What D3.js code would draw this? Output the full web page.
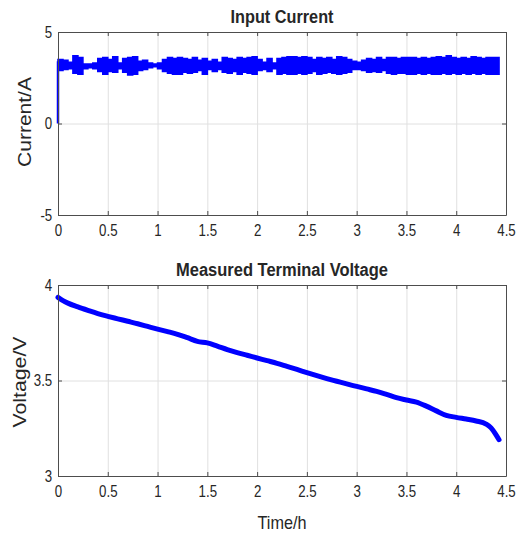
<!DOCTYPE html>
<html>
<head>
<meta charset="utf-8">
<script src="https://cdn.jsdelivr.net/npm/d3@7"></script>
<style>
  body { margin: 0; background: #fff; }
  text { font-family: "Liberation Sans", Arial, sans-serif; fill: #262626; }
</style>
</head>
<body>
<script>
// Chart size
var w = 523;
var h = 533;

// Input current: envelope of the noisy signal, one bin every 0.05 h
var currentTime = [0.00,0.05,0.10,0.15,0.20,0.25,0.30,0.35,0.40,0.45,0.50,0.55,0.60,0.65,0.70,0.75,0.80,0.85,0.90,0.95,
  1.00,1.05,1.10,1.15,1.20,1.25,1.30,1.35,1.40,1.45,1.50,1.55,1.60,1.65,1.70,1.75,1.80,1.85,1.90,1.95,
  2.00,2.05,2.10,2.15,2.20,2.25,2.30,2.35,2.40,2.45,2.50,2.55,2.60,2.65,2.70,2.75,2.80,2.85,2.90,2.95,
  3.00,3.05,3.10,3.15,3.20,3.25,3.30,3.35,3.40,3.45,3.50,3.55,3.60,3.65,3.70,3.75,3.80,3.85,3.90,3.95,
  4.00,4.05,4.10,4.15,4.20,4.25,4.30,4.35,4.43];
var currentHigh = [3.50,3.45,3.35,3.70,3.60,3.25,3.25,3.30,3.55,3.60,3.50,3.65,3.30,3.55,3.60,3.65,3.40,3.45,3.30,3.25,
  3.30,3.50,3.60,3.55,3.60,3.55,3.50,3.60,3.45,3.55,3.40,3.50,3.35,3.60,3.55,3.50,3.60,3.55,3.60,3.65,
  3.50,3.35,3.55,3.30,3.55,3.60,3.65,3.65,3.60,3.65,3.60,3.50,3.60,3.55,3.60,3.50,3.65,3.60,3.50,3.40,
  3.35,3.45,3.55,3.50,3.60,3.50,3.60,3.60,3.55,3.60,3.60,3.60,3.55,3.60,3.55,3.60,3.65,3.60,3.70,3.60,
  3.55,3.60,3.55,3.65,3.60,3.55,3.60,3.60,3.60];
var currentLow = [2.90,2.95,3.00,2.75,2.70,3.00,3.05,3.00,2.85,2.70,2.85,2.80,3.00,2.80,2.65,2.70,2.90,2.95,3.05,3.10,
  3.00,2.85,2.75,2.70,2.70,2.80,2.75,2.80,2.90,2.70,2.95,2.85,2.95,2.80,2.75,2.85,2.70,2.80,2.75,2.70,
  2.90,2.95,2.85,3.00,2.70,2.75,2.70,2.70,2.75,2.70,2.75,2.85,2.70,2.75,2.80,2.75,2.70,2.75,2.80,2.95,
  2.95,2.90,2.80,2.85,2.80,2.90,2.75,2.70,2.75,2.75,2.70,2.70,2.75,2.70,2.75,2.70,2.70,2.75,2.70,2.75,
  2.70,2.75,2.70,2.75,2.70,2.75,2.70,2.70,2.70];
// switch-on step at t = 0
var startTime = [0, 0];
var startCurrent = [0, 3.40];

// Measured terminal voltage
var voltageTime = [0,0.05,0.1,0.2,0.3,0.4,0.5,0.6,0.7,0.8,0.9,1.0,1.1,1.2,1.3,1.4,1.5,1.6,1.7,1.8,1.9,
  2.0,2.1,2.2,2.3,2.4,2.5,2.6,2.7,2.8,2.9,3.0,3.1,3.2,3.3,3.4,3.5,3.6,3.7,3.8,3.9,
  4.0,4.1,4.2,4.3,4.35,4.4,4.43];
var voltage = [3.935,3.918,3.905,3.885,3.867,3.850,3.836,3.823,3.810,3.797,3.783,3.769,3.756,3.742,3.724,3.705,3.697,3.680,3.662,3.646,3.632,
  3.618,3.604,3.590,3.574,3.558,3.541,3.525,3.510,3.496,3.482,3.469,3.456,3.443,3.427,3.410,3.398,3.387,3.366,3.341,3.318,
  3.307,3.298,3.288,3.272,3.252,3.215,3.190];

// Tick labels
var timeTicks = [0,0.5,1,1.5,2,2.5,3,3.5,4,4.5];
var currentTicks = [-5,0,5];
var voltageTicks = [3,3.5,4];

var svg = d3.select("body").append("svg")
  .attr("width", w)
  .attr("height", h);

// Shared x-scale
var x = d3.scaleLinear().domain([0, 4.5]).range([58, 506]);

// narrow look of the tick font
var squeeze = 0.83;
var plain = function(d) { return String(d); };

function drawFrame(y, yTicks, top, bottom) {
  // grid
  svg.append("g")
    .attr("transform", "translate(0," + bottom + ")")
    .call(d3.axisBottom(x).tickValues(timeTicks).tickSize(-(bottom - top)).tickFormat(""))
    .call(function(g) { g.select(".domain").remove(); })
    .selectAll("line").attr("stroke", "#e0e0e0");
  svg.append("g")
    .attr("transform", "translate(58,0)")
    .call(d3.axisLeft(y).tickValues(yTicks).tickSize(-448).tickFormat(""))
    .call(function(g) { g.select(".domain").remove(); })
    .selectAll("line").attr("stroke", "#e0e0e0");
}

function drawAxes(y, yTicks, top, bottom) {
  var xa = svg.append("g")
    .attr("transform", "translate(0," + bottom + ")")
    .call(d3.axisBottom(x).tickValues(timeTicks).tickSize(-4).tickSizeOuter(0).tickPadding(10).tickFormat(plain));
  var xt = svg.append("g")
    .attr("transform", "translate(0," + top + ")")
    .call(d3.axisTop(x).tickValues(timeTicks).tickSize(-4).tickSizeOuter(0).tickFormat(""));
  var ya = svg.append("g")
    .attr("transform", "translate(58,0)")
    .call(d3.axisLeft(y).tickValues(yTicks).tickSize(-4).tickSizeOuter(0).tickPadding(7).tickFormat(plain));
  var yr = svg.append("g")
    .attr("transform", "translate(506,0)")
    .call(d3.axisRight(y).tickValues(yTicks).tickSize(-4).tickSizeOuter(0).tickFormat(""));
  [xa, xt, ya, yr].forEach(function(g) {
    g.select(".domain").attr("stroke", "#4d4d4d");
    g.selectAll("line").attr("stroke", "#4d4d4d");
    g.selectAll("text")
      .attr("fill", "#262626")
      .style("font-size", "16px")
      .style("font-family", "'Liberation Sans', Arial, sans-serif");
  });
  xa.selectAll("text").attr("transform", "scale(" + squeeze + ",1)");
  ya.selectAll("text").attr("transform", "scale(" + squeeze + ",1)");
}

function label(str, x0, y0, size, len, weight, rotate) {
  svg.append("text")
    .attr("transform", "translate(" + x0 + "," + y0 + ")" + (rotate ? " rotate(-90)" : ""))
    .attr("text-anchor", "middle")
    .attr("textLength", len)
    .attr("lengthAdjust", "spacingAndGlyphs")
    .style("font-size", size + "px")
    .style("font-weight", weight)
    .text(str);
}

// ---- Top: input current ----
var y1 = d3.scaleLinear().domain([-5, 5]).range([215, 32]);
drawFrame(y1, currentTicks, 32, 215);

var band = d3.range(currentTime.length).map(function(i) {
  return { t: currentTime[i], hi: currentHigh[i], lo: currentLow[i] };
});
svg.append("path")
  .datum(band)
  .attr("fill", "#0000ff")
  .attr("stroke", "#0000ff")
  .attr("stroke-width", 1.6)
  .attr("d", d3.area()
    .curve(d3.curveStepAfter)
    .x(function(d) { return x(d.t); })
    .y0(function(d) { return y1(d.lo); })
    .y1(function(d) { return y1(d.hi); }));

svg.append("path")
  .datum(d3.zip(startTime, startCurrent))
  .attr("fill", "none")
  .attr("stroke", "#0000ff")
  .attr("stroke-width", 2.5)
  .attr("d", d3.line()
    .x(function(d) { return x(d[0]); })
    .y(function(d) { return y1(d[1]); }));

drawAxes(y1, currentTicks, 32, 215);
label("Input Current", 282, 23, 18, 103, "bold", false);
label("Current/A", 31, 122, 19, 90, "normal", true);

// ---- Bottom: terminal voltage ----
var y2 = d3.scaleLinear().domain([3, 4]).range([476, 285]);
drawFrame(y2, voltageTicks, 285, 476);

svg.append("path")
  .datum(d3.zip(voltageTime, voltage))
  .attr("fill", "none")
  .attr("stroke", "#0000ff")
  .attr("stroke-width", 5)
  .attr("stroke-linecap", "round")
  .attr("stroke-linejoin", "round")
  .attr("d", d3.line()
    .curve(d3.curveMonotoneX)
    .x(function(d) { return x(d[0]); })
    .y(function(d) { return y2(d[1]); }));

drawAxes(y2, voltageTicks, 285, 476);
label("Measured Terminal Voltage", 282, 276, 18, 212, "bold", false);
label("Voltage/V", 26, 382, 19, 91, "normal", true);
label("Time/h", 282, 529, 19, 49, "normal", false);
</script>
</body>
</html>
